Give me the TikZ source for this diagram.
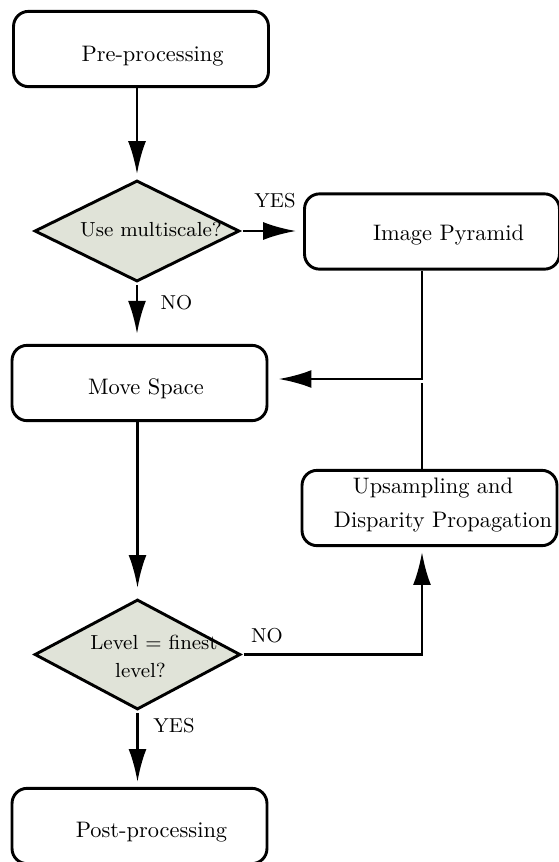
\documentclass[tikz,border=0pt]{standalone}
\usetikzlibrary{arrows.meta,shapes.geometric}
\definecolor{decfill}{RGB}{224,227,216}
\begin{document}
\begin{tikzpicture}[x=0.4464pt,y=-0.4464pt,
  stepbox/.style={draw,line width=1.3pt,rounded corners=6.7pt,
    minimum width=113.8pt,minimum height=33.6pt,inner sep=0pt},
  decision/.style={draw,diamond,fill=decfill,line width=1.3pt,inner sep=0pt},
  boxtext/.style={anchor=base,inner sep=0pt,font=\fontsize{10}{12}\selectfont},
  dectext/.style={anchor=base,inner sep=0pt,font=\fontsize{9.1}{11}\selectfont},
  branch/.style={anchor=base,inner sep=0pt,font=\small},
  wire/.style={line width=1.25pt},
  arr/.style={wire,-{Latex[length=14.7pt,width=8pt]}}]
\useasboundingbox (0,0) rectangle (559,862);

% process boxes
\node[stepbox] (pre)  at (141,49)    {};
\node[stepbox] (pyr)  at (432,231.5) {};
\node[stepbox] (move) at (139.5,383) {};
\node[stepbox] (up)   at (429.5,508) {};
\node[stepbox] (post) at (139.5,826) {};

% decisions
\node[decision,minimum width=91.5pt,minimum height=45.1pt] (d1) at (137,231) {};
\node[decision,minimum width=91.9pt,minimum height=49.1pt] (d2) at (137.5,654.5) {};

% texts
\node[boxtext] (pret)  at (152.5,61)  {Pre-processing};
\node[boxtext] (pyrt)  at (448.5,240) {Image Pyramid};
\node[boxtext] (movet) at (146,394)   {Move Space};
\node[boxtext] (upa)   at (433,493)   {Upsampling and};
\node[boxtext] (upb)   at (443,527)   {Disparity Propagation};
\node[boxtext] (postt) at (151.5,837) {Post-processing};
\node[dectext] (d1t)   at (151,236)   {Use multiscale?};
\node[dectext] (d2a)   at (154,649)   {Level = finest};
\node[dectext] (d2b)   at (140.5,677) {level?};

% branch labels
\node[branch] (yes1) at (275,207)   {YES};
\node[branch] (no1)  at (176.5,309) {NO};
\node[branch] (no2)  at (267,642)   {NO};
\node[branch] (yes2) at (174,732)   {YES};

% routing points on the right-hand column
\coordinate (bend)   at (422,379);
\coordinate (gapend) at (422,383);

% connectors
\draw[arr,shorten >=2.2pt] (pre.south -| d1.north) -- (d1.north);
\draw[arr,shorten <=0.9pt,shorten >=3.1pt] (d1.east) -- (pyr.west |- d1.east);
\draw[arr,shorten <=0.9pt,shorten >=4.5pt] (d1.south) -- (move.north -| d1.south);
\draw[arr,shorten >=4.5pt] (pyr.south -| bend) -- (bend) -- (move.east |- bend);
\draw[wire] (up.north -| gapend) -- (gapend);
\draw[arr,shorten >=4.5pt] (move.south -| d2.north) -- (d2.north);
\draw[arr,shorten <=0.9pt,shorten >=2.2pt] (d2.east) -| (up.south -| bend);
\draw[arr,shorten <=0.9pt,shorten >=2.2pt] (d2.south) -- (post.north -| d2.south);
\end{tikzpicture}
\end{document}
